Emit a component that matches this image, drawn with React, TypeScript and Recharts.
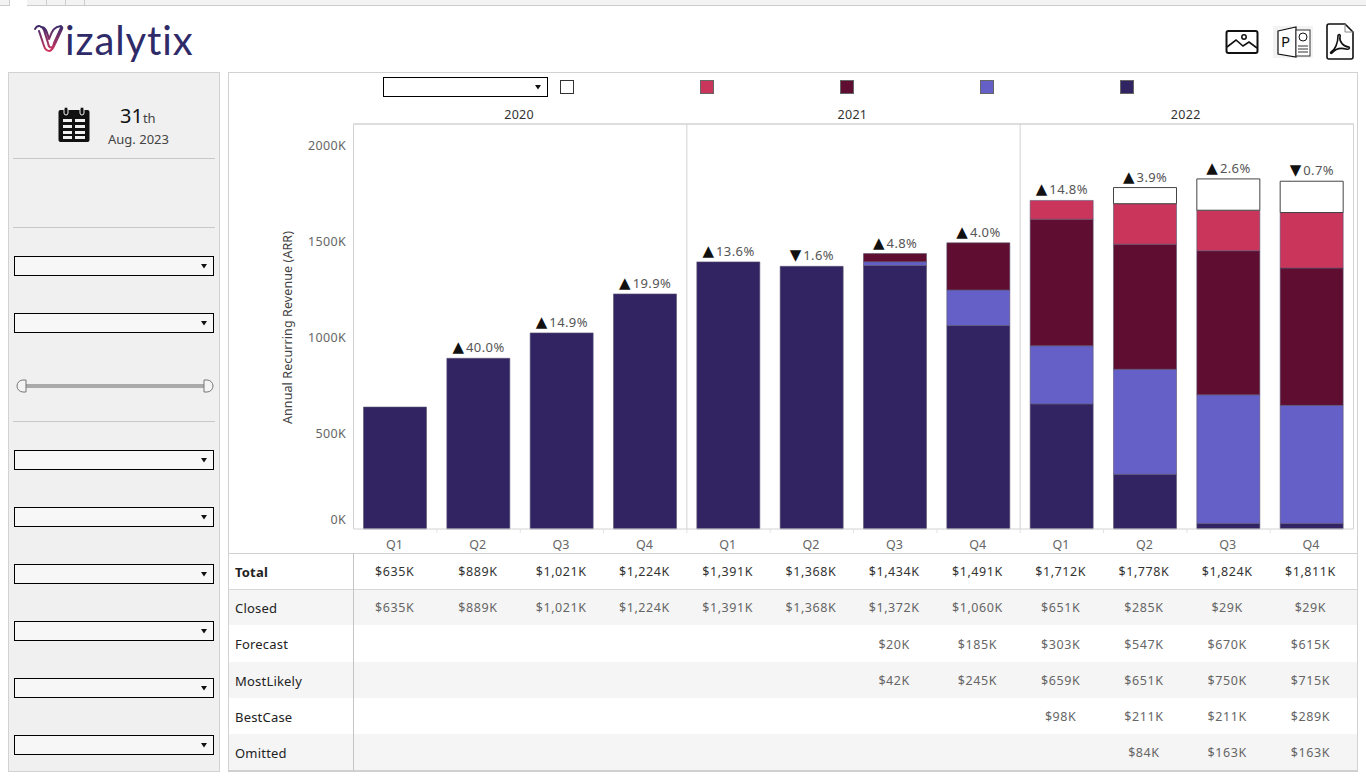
import React from "react";
import { Bar, ComposedChart, Line, ReferenceLine, XAxis, YAxis } from "recharts";

const years = ["2020", "2021", "2022"];
const quarters = ["Q1", "Q2", "Q3", "Q4"];
const closed = [635, 889, 1021, 1224, 1391, 1368, 1372, 1060, 651, 285, 29, 29];
const forecast = [null, null, null, null, null, null, 20, 185, 303, 547, 670, 615];
const mostLikely = [null, null, null, null, null, null, 42, 245, 659, 651, 750, 715];
const bestCase = [null, null, null, null, null, null, null, null, 98, 211, 211, 289];
const omitted = [null, null, null, null, null, null, null, null, null, 84, 163, 163];
const total = [635, 889, 1021, 1224, 1391, 1368, 1434, 1491, 1712, 1778, 1824, 1811];
const change = [null, 40.0, 14.9, 19.9, 13.6, -1.6, 4.8, 4.0, 14.8, 3.9, 2.6, -0.7];
const yTicks = [0, 500, 1000, 1500, 2000];

const NAVY = "#322463";
const PERI = "#6560c8";
const MAROON = "#5f0d30";
const CRIMSON = "#c9355b";
const FONT = "'Noto Sans', sans-serif";
const Y_MAX = 2109;

const data = years.flatMap((year, y) =>
  quarters.map((quarter, q) => {
    const i = y * 4 + q;
    return {
      key: `${year} ${quarter}`,
      year,
      quarter,
      closed: closed[i],
      forecast: forecast[i],
      mostLikely: mostLikely[i],
      bestCase: bestCase[i],
      omitted: omitted[i],
      total: total[i],
      change: change[i],
    };
  })
);

const money = (v: number | null) => (v == null ? "" : `$${v.toLocaleString("en-US")}K`);

const rows = [
  { name: "Total", values: total, bold: true },
  { name: "Closed", values: closed, shade: true },
  { name: "Forecast", values: forecast },
  { name: "MostLikely", values: mostLikely, shade: true },
  { name: "BestCase", values: bestCase },
  { name: "Omitted", values: omitted, shade: true },
];
const rowTops = [553, 589, 625, 662, 698, 734, 770];
const dropdownTops = [256, 313, 450, 507, 564, 621, 678, 735];
const sideLines = [158, 227, 421];
const swatches = [
  { x: 560, color: "#fff" },
  { x: 700, color: CRIMSON },
  { x: 840, color: MAROON },
  { x: 980, color: PERI },
  { x: 1120, color: NAVY },
];

const box = (left: number, top: number, width: number, height: number, extra: React.CSSProperties = {}): React.CSSProperties => ({
  position: "absolute",
  left,
  top,
  width,
  height,
  boxSizing: "border-box",
  ...extra,
});

const Dropdown = ({ left, top, width, bg }: { left: number; top: number; width: number; bg: string }) => (
  <div style={box(left, top, width, 20, { background: bg, border: "1px solid #000" })}>
    <svg width="7" height="5" style={{ position: "absolute", right: 5, top: 7 }}>
      <path d="M0 0H6L3 4.5Z" fill="#111" />
    </svg>
  </div>
);

const YTick = ({ x, y, payload }: any) => (
  <text x={x + 0.5} y={payload.value === 0 ? y - 9 : y + 1.5} dy={4} textAnchor="end" fontSize={12.5} letterSpacing={0.35} fontFamily={FONT} fill="#666">
    {payload.value}K
  </text>
);

const QuarterTick = ({ x, y, payload, index }: any) => (
  <g>
    {index > 0 && <line x1={x - 41.6} x2={x - 41.6} y1={y - 8} y2={y - 4} stroke="#e2e2e2" />}
    <text x={x - 0.8} y={y + 12} textAnchor="middle" fontSize={12.5} fontFamily={FONT} fill="#666">
      {payload.value}
    </text>
  </g>
);

// year header sits between Q2 and Q3 of its panel
const YearTick = ({ x, y, payload, index }: any) =>
  index % 4 === 1 ? (
    <text x={x + 40.6} y={y + 3} textAnchor="middle" fontSize={12.5} letterSpacing={0.3} fontFamily={FONT} fill="#333">
      {payload.value}
    </text>
  ) : null;

const ChangeLabel = ({ x, y, index }: any) => {
  const v = change[index];
  if (v == null) return null;
  return (
    <text x={x} y={y - 6} textAnchor="middle" fontFamily={FONT}>
      <tspan fontSize={15} fill="#111" fontFamily="'DejaVu Sans'">{v < 0 ? "▼" : "▲"}</tspan>
      <tspan fontSize={13} fill="#555" dx={2} letterSpacing={0.4}>{Math.abs(v).toFixed(1)}%</tspan>
    </text>
  );
};

const Logo = () => (
  <div style={box(30, 14, 180, 54)}>
    <svg width="36" height="34" style={{ position: "absolute", left: 3, top: 10 }}>
      <defs>
        <linearGradient id="vg" x1="0" y1="0" x2="0" y2="1">
          <stop offset="0" stopColor="#3a2a6a" />
          <stop offset="1" stopColor="#d0365f" />
        </linearGradient>
      </defs>
      <path d="M2 5C5 0 9 2 11 6L15 19C16 25 20 25 21 19L27 6C28 3 30 2 29 5L21 22C18 29 13 28 11 22L6 7M8 3C13 3 14 8 16 15C19 8 20 3 28 2" fill="none" stroke="url(#vg)" strokeWidth="2" strokeLinejoin="round" strokeLinecap="round" />
    </svg>
    <div style={{ position: "absolute", left: 35, top: 0, fontFamily: "Lato, sans-serif", fontWeight: 400, fontSize: 40, color: "#2f2a68", letterSpacing: 0.9, lineHeight: "52px" }}>
      izalytix
    </div>
  </div>
);

const CalendarIcon = () => (
  <svg width="32" height="36" style={{ position: "absolute", left: 58, top: 107 }}>
    <rect x="0.5" y="3" width="31" height="32" rx="2" fill="#111" />
    <rect x="6" y="0" width="4" height="8" rx="2" fill="#111" stroke="#f0f0f0" />
    <rect x="22" y="0" width="4" height="8" rx="2" fill="#111" stroke="#f0f0f0" />
    {[12, 18, 24, 29].map((ry) => (
      <g key={ry} fill="#f0f0f0">
        <rect x="5" y={ry} width="9" height="3" />
        <rect x="17" y={ry} width="10" height="3" />
      </g>
    ))}
  </svg>
);

const ExportIcons = () => (
  <>
    <svg width="34" height="26" style={{ position: "absolute", left: 1225, top: 29 }}>
      <rect x="1.5" y="2" width="31" height="22" rx="2" fill="#fff" stroke="#111" strokeWidth="2" />
      <path d="M2 18L11 11L18 17L24 13L32 19" fill="none" stroke="#111" strokeWidth="1.6" />
      <circle cx="19" cy="8" r="2.2" fill="none" stroke="#111" strokeWidth="1.5" />
    </svg>
    <svg width="40" height="32" style={{ position: "absolute", left: 1273, top: 26 }}>
      <rect x="0" y="0" width="40" height="32" fill="#f3f3f3" />
      <path d="M5 5L23 1V31L5 28Z" fill="#fff" stroke="#111" strokeWidth="1.2" />
      <rect x="23" y="4" width="14" height="26" fill="#fff" stroke="#333" />
      <text x="8" y="21" fontSize="15" fontFamily={FONT} fill="#111">P</text>
      <circle cx="30" cy="11" r="4" fill="none" stroke="#111" />
      <path d="M25 20H35M25 23H35M25 26H35" stroke="#333" />
    </svg>
    <svg width="30" height="38" style={{ position: "absolute", left: 1325, top: 23 }}>
      <path d="M2 3a2 2 0 0 1 2-2H20L28 9V34a2 2 0 0 1-2 2H4a2 2 0 0 1-2-2Z" fill="#fff" stroke="#111" strokeWidth="1.6" />
      <path d="M20 1V9H28" fill="none" stroke="#888" />
      <path d="M6 29C10 27 13 20 13 13C13 11 16 11 15 14C14 19 19 24 24 24C25 25 24 27 21 26C17 25 11 25 7 30C6 31 5 30 6 29Z" fill="none" stroke="#111" strokeWidth="1.6" />
    </svg>
  </>
);

const Sidebar = () => (
  <div style={box(8, 72, 212, 700, { background: "#f0f0f0", border: "1px solid #d2d2d2" })} />
);

export default function App() {
  const barStroke = { stroke: "#5c5470", strokeWidth: 1, strokeOpacity: 0.6 };
  return (
    <div style={box(0, 0, 1366, 776, { background: "#fff", overflow: "hidden", fontFamily: FONT })}>
      {/* tab strip */}
      <div style={box(0, 0, 1366, 6, { background: "#f3f3f3", borderBottom: "1px solid #ccc" })} />
      <div style={box(9, 0, 18, 6, { background: "#fff", borderLeft: "1px solid #ccc" })} />
      {[46, 65, 84].map((x) => (
        <div key={x} style={box(x, 0, 1, 6, { background: "#ccc" })} />
      ))}
      <Logo />
      <ExportIcons />

      <Sidebar />
      <CalendarIcon />
      <div style={{ position: "absolute", left: 120, top: 102, fontSize: 20, lineHeight: "28px", color: "#111" }}>
        31<span style={{ fontSize: 13, color: "#444" }}>th</span>
      </div>
      <div style={{ position: "absolute", left: 108, top: 130, fontSize: 13, lineHeight: "18px", color: "#444" }}>Aug. 2023</div>
      {sideLines.map((y) => (
        <div key={y} style={box(13, y, 202, 1, { background: "#c8c8c8" })} />
      ))}
      {dropdownTops.map((y) => (
        <Dropdown key={y} left={14} top={y} width={200} bg="#f7f7f7" />
      ))}
      <div style={box(24, 384, 180, 4, { background: "#aaa" })} />
      <svg width="12" height="14" style={{ position: "absolute", left: 16, top: 379 }}>
        <path d="M10 1H7A6 6 0 0 0 7 13H10Z" fill="#f4f4f4" stroke="#777" />
      </svg>
      <svg width="12" height="14" style={{ position: "absolute", left: 203, top: 379 }}>
        <path d="M1 1H4A6 6 0 0 1 4 13H1Z" fill="#f4f4f4" stroke="#777" />
      </svg>

      {/* main frame */}
      <div style={box(228, 72, 1130, 700, { border: "1px solid #d2d2d2" })} />
      <Dropdown left={383} top={77} width={165} bg="#fff" />
      {swatches.map((s) => (
        <div key={s.x} style={box(s.x, 80, 14, 14, { background: s.color, border: s.color === "#fff" ? "1px solid #333" : "1px solid #666" })} />
      ))}

      {/* table */}
      {rows.map((row, r) => (
        <div key={row.name} style={box(229, rowTops[r], 1128, rowTops[r + 1] - rowTops[r], { background: row.shade ? "#f5f5f5" : "#fff" })}>
          <div style={{ position: "absolute", left: 6, top: 0, lineHeight: `${rowTops[r + 1] - rowTops[r] + 2}px`, fontSize: 13, letterSpacing: 0.2, fontWeight: row.bold ? 700 : 400, color: "#222" }}>
            {row.name}
          </div>
          {row.values.map((v, i) => (
            <div key={i} style={{ position: "absolute", left: 124 + i * 83.25, width: 83.25, top: 1, textAlign: "center", lineHeight: `${rowTops[r + 1] - rowTops[r]}px`, fontSize: 12.5, letterSpacing: 0.55, color: row.bold ? "#333" : "#666" }}>
              {money(v)}
            </div>
          ))}
        </div>
      ))}
      <div style={box(228, 553, 1130, 1, { background: "#d0d0d0" })} />
      <div style={box(229, 589, 1128, 1, { background: "#d8d8d8" })} />
      <div style={box(228, 770, 1130, 2, { background: "#d0d0d0" })} />
      <div style={box(353, 553, 1, 217, { background: "#c4c4c4" })} />

      <div style={{ position: "absolute", left: 228, top: 100 }}>
        <ComposedChart width={1130} height={453} data={data} margin={{ top: 0, right: 4.5, bottom: 0, left: 0 }} barCategoryGap={0}>
          <XAxis xAxisId="year" orientation="top" dataKey="year" allowDuplicatedCategory={true} height={24} interval={0} axisLine={{ stroke: "#d2d2d2" }} tickLine={false} tick={<YearTick />} />
          <XAxis dataKey="key" height={24} interval={0} axisLine={{ stroke: "#d2d2d2" }} tickLine={false} tick={(p: any) => <QuarterTick {...p} payload={{ value: data[p.index].quarter }} />} />
          <YAxis domain={[0, Y_MAX]} ticks={yTicks} width={125.5} axisLine={{ stroke: "#d2d2d2" }} tickLine={false} tick={<YTick />} label={{ value: "Annual Recurring Revenue (ARR)", angle: -90, position: "insideLeft", offset: 60, dy: 1, style: { fontSize: 12.5, letterSpacing: 0.1, fontFamily: FONT, fill: "#444", textAnchor: "middle" } }} />
          <ReferenceLine x="2021 Q1" position="start" stroke="#d2d2d2" />
          <ReferenceLine x="2022 Q1" position="start" stroke="#d2d2d2" />
          <ReferenceLine x="2022 Q4" position="end" stroke="#d2d2d2" />
          <ReferenceLine y={Y_MAX} stroke="#d2d2d2" />
          <Bar dataKey="closed" stackId="arr" barSize={63} fill={NAVY} {...barStroke} isAnimationActive={false} />
          <Bar dataKey="forecast" stackId="arr" barSize={63} fill={PERI} {...barStroke} isAnimationActive={false} />
          <Bar dataKey="mostLikely" stackId="arr" barSize={63} fill={MAROON} {...barStroke} isAnimationActive={false} />
          <Bar dataKey="bestCase" stackId="arr" barSize={63} fill={CRIMSON} {...barStroke} isAnimationActive={false} />
          <Bar dataKey="omitted" stackId="arr" barSize={63} fill="#fff" stroke="#444" strokeWidth={1} isAnimationActive={false} />
          <Line dataKey="total" stroke="none" dot={false} activeDot={false} label={<ChangeLabel />} isAnimationActive={false} />
        </ComposedChart>
      </div>
    </div>
  );
}
